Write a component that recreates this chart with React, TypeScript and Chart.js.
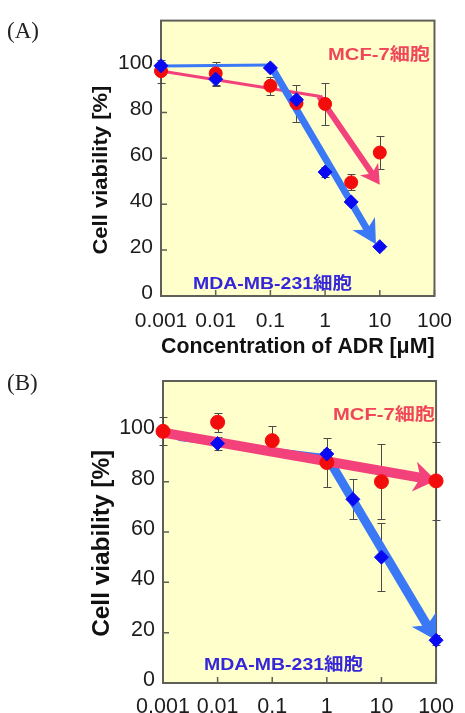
import React, { useEffect, useRef } from "react";
import { Chart, registerables } from "chart.js";

Chart.register(...registerables);

// ---------------- Shared axis data ----------------
const xTicks = [0.001, 0.01, 0.1, 1, 10, 100];
const xTickLabels = ["0.001", "0.01", "0.1", "1", "10", "100"];
const yTicks = [0, 20, 40, 60, 80, 100];
const yMax = 120;

// ---------------- Panel A ----------------
const mcfDoseA = [0.001, 0.01, 0.1, 0.3, 1, 3, 10];
const mcfViabilityA = [98, 97, 91.6, 84, 83.7, 49.5, 62.5];
const mcfErrorA = [5, 5, 4, 8, 9, 3.5, 7];
const mdaDoseA = [0.001, 0.01, 0.1, 0.3, 1, 3, 10];
const mdaViabilityA = [100.3, 94.5, 99.4, 85.5, 54, 41, 21.5];
const mdaErrorA = [1.5, 3, 1, 3, 2, 1, 1];
// hand-drawn trend arrows
const mcfTrendDoseA = [0.001, 0.78, 10];
const mcfTrendA = [98, 87, 48.5];
const mdaTrendDoseA = [0.001, 0.1, 8.5];
const mdaTrendA = [100.2, 100.6, 22.5];

// ---------------- Panel B ----------------
const mcfDoseB = [0.001, 0.01, 0.1, 1, 10, 100];
const mcfViabilityB = [100, 103.6, 96.3, 87.6, 80, 80.3];
const mcfErrorB = [5.5, 3.7, 5.8, 9.6, 14.8, 15.6];
const mdaDoseB = [0.01, 1, 3, 10, 100];
const mdaViabilityB = [95.2, 91, 73, 50, 17];
const mdaErrorB = [2.5, 2, 8, 13.5, 2];
const mcfTrendDoseB = [0.001, 100];
const mcfTrendB = [99.5, 80.5];
const mdaTrendDoseB = [0.002, 1, 100];
const mdaTrendB = [97, 90, 17];

// ---------------- Texts ----------------
const yTitle = "Cell viability [%]";
const xTitle = "Concentration of ADR [\u03bcM]";
const mcfName = "MCF-7細胞";
const mdaName = "MDA-MB-231細胞";

// ---------------- Styles ----------------
const FONT = "'Liberation Sans', Arial, 'Noto Sans CJK JP', sans-serif";
const RED = "#f20c0c";
const BLUE = "#0a0af2";
const PINK = "#f3417b";
const ARROW_BLUE = "#3a78f6";
const MCF_TEXT = "#f0465a";
const MDA_TEXT = "#3527d9";

const toPts = (xs: number[], ys: number[]) => xs.map((x, i) => ({ x, y: ys[i] }));

function drawFitText(
  ctx: CanvasRenderingContext2D,
  text: string,
  x: number,
  y: number,
  font: string,
  color: string,
  width: number,
  align: CanvasTextAlign,
  rot = 0
) {
  ctx.save();
  ctx.font = font;
  ctx.fillStyle = color;
  ctx.textBaseline = "middle";
  ctx.textAlign = align;
  const w = ctx.measureText(text).width;
  const s = w > 0 ? width / w : 1;
  ctx.translate(x, y);
  ctx.rotate(rot);
  ctx.scale(s, 1);
  ctx.fillText(text, 0, 0);
  ctx.restore();
}

const panelPlugin = {
  id: "panel",
  beforeDraw(chart: any, _a: any, opts: any) {
    const { ctx, chartArea: a } = chart;
    ctx.save();
    ctx.fillStyle = opts.background;
    ctx.fillRect(a.left, a.top, a.right - a.left, a.bottom - a.top);
    ctx.restore();
  },
  beforeDatasetsDraw(chart: any, _a: any, opts: any) {
    const { ctx, chartArea: a, scales } = chart;
    const xs = scales.x;
    const ys = scales.y;
    ctx.save();
    ctx.strokeStyle = opts.axisColor;
    ctx.lineWidth = 1.5;
    ctx.beginPath();
    for (const v of xTicks) {
      const px = xs.getPixelForValue(v);
      ctx.moveTo(px, a.bottom);
      ctx.lineTo(px, a.bottom - opts.tickLen);
    }
    for (const v of yTicks) {
      const py = ys.getPixelForValue(v);
      ctx.moveTo(a.left, py);
      ctx.lineTo(a.left + opts.tickLen, py);
    }
    ctx.stroke();
    ctx.lineWidth = 2;
    ctx.strokeRect(a.left, a.top, a.right - a.left, a.bottom - a.top);

    ctx.strokeStyle = opts.errColor;
    ctx.lineWidth = 1;
    chart.data.datasets.forEach((ds: any, i: number) => {
      if (!ds.errors) return;
      const meta = chart.getDatasetMeta(i);
      ds.data.forEach((d: any, j: number) => {
        const e = ds.errors[j];
        if (!e) return;
        const px = Math.round(meta.data[j].x) + 0.5;
        const y1 = Math.round(ys.getPixelForValue(d.y + e)) + 0.5;
        const y2 = Math.round(ys.getPixelForValue(d.y - e)) + 0.5;
        ctx.beginPath();
        ctx.moveTo(px, y1);
        ctx.lineTo(px, y2);
        ctx.moveTo(px - opts.cap, y1);
        ctx.lineTo(px + opts.cap, y1);
        ctx.moveTo(px - opts.cap, y2);
        ctx.lineTo(px + opts.cap, y2);
        ctx.stroke();
      });
    });
    ctx.restore();
  },
  beforeDatasetDraw(chart: any, args: any) {
    const ds = chart.data.datasets[args.index];
    if (!ds.arrow) return;
    const pts = args.meta.data;
    const n = pts.length;
    const p = pts[n - 1];
    const q = pts[n - 2];
    const dx = p.x - q.x;
    const dy = p.y - q.y;
    const L = Math.hypot(dx, dy) || 1;
    const ux = dx / L;
    const uy = dy / L;
    ds._tip = { x: p.x, y: p.y, ux, uy };
    p.x = p.x - ux * ds.arrow.len * 0.6;
    p.y = p.y - uy * ds.arrow.len * 0.6;
    if (args.meta.dataset) args.meta.dataset._path = undefined;
  },
  afterDatasetDraw(chart: any, args: any) {
    const ds = chart.data.datasets[args.index];
    if (!ds.arrow || !ds._tip) return;
    const pts = args.meta.data;
    const p = pts[pts.length - 1];
    const t = ds._tip;
    p.x = t.x;
    p.y = t.y;
    const { len, half } = ds.arrow;
    const ctx = chart.ctx;
    const bx = t.x - t.ux * len;
    const by = t.y - t.uy * len;
    const nx = t.x - t.ux * len * 0.72;
    const ny = t.y - t.uy * len * 0.72;
    const px = -t.uy;
    const py = t.ux;
    ctx.save();
    ctx.fillStyle = ds.borderColor;
    ctx.beginPath();
    ctx.moveTo(t.x, t.y);
    ctx.lineTo(bx + px * half, by + py * half);
    ctx.lineTo(nx, ny);
    ctx.lineTo(bx - px * half, by - py * half);
    ctx.closePath();
    ctx.fill();
    ctx.restore();
  },
  afterDraw(chart: any, _a: any, opts: any) {
    const { ctx, chartArea: a } = chart;
    for (const lb of opts.labels) {
      drawFitText(ctx, lb.text, a.left + lb.dx, a.top + lb.dy, `bold ${lb.size}px ${FONT}`, lb.color, lb.w, "left");
    }
    const yt = opts.yTitle;
    drawFitText(ctx, yTitle, a.left + yt.dx, a.top + yt.dy, `bold ${yt.size}px ${FONT}`, "#111", yt.w, "center", -Math.PI / 2);
  },
};

function trendDatasets(dose: number[], val: number[], color: string, thinW: number, thickW: number, head: any) {
  const base = {
    showLine: true,
    borderColor: color,
    backgroundColor: color,
    pointRadius: 0,
    pointHoverRadius: 0,
    order: 5,
    clip: false,
    tension: 0,
    fill: false,
  };
  const out: any[] = [];
  const n = dose.length;
  if (n > 2) {
    out.push({
      ...base,
      data: toPts(dose.slice(0, n - 1), val.slice(0, n - 1)),
      borderWidth: thinW,
      borderCapStyle: "round",
      borderJoinStyle: "round",
    });
  }
  out.push({
    ...base,
    data: toPts(dose.slice(n - 2), val.slice(n - 2)),
    borderWidth: thickW,
    borderCapStyle: "butt",
    arrow: head,
  });
  return out;
}

function markerDataset(dose: number[], val: number[], err: number[], color: string, style: string, r: number, order: number) {
  return {
    data: toPts(dose, val),
    errors: err,
    showLine: false,
    pointStyle: style,
    pointRadius: r,
    pointHoverRadius: r,
    pointBackgroundColor: color,
    pointBorderColor: color,
    pointBorderWidth: 1,
    order,
    clip: false,
  };
}

interface PanelSpec {
  width: number;
  height: number;
  padTop: number;
  padRight: number;
  yWidth: number;
  xHeight: number;
  xTickPad: number;
  tickSize: number;
  showXTitle: boolean;
  datasets: any[];
  labels: any[];
  yTitle: any;
}

function makeConfig(s: PanelSpec): any {
  return {
    type: "scatter",
    data: { datasets: s.datasets },
    options: {
      responsive: false,
      animation: false,
      events: [],
      layout: { padding: { left: 0, top: s.padTop, right: s.padRight, bottom: 0 } },
      plugins: {
        legend: { display: false },
        tooltip: { enabled: false },
        panel: {
          background: "#ffffcc",
          axisColor: "#5f5f57",
          errColor: "#4a4a4a",
          tickLen: 6,
          cap: 4,
          labels: s.labels,
          yTitle: s.yTitle,
        },
      },
      scales: {
        x: {
          type: "logarithmic",
          min: xTicks[0],
          max: xTicks[xTicks.length - 1],
          grid: { display: false, drawTicks: false },
          border: { display: false },
          afterBuildTicks: (sc: any) => {
            sc.ticks = xTicks.map((v) => ({ value: v }));
          },
          afterFit: (sc: any) => {
            sc.height = s.xHeight;
          },
          ticks: {
            autoSkip: false,
            maxRotation: 0,
            padding: s.xTickPad,
            color: "#1c1c1c",
            font: { family: FONT, size: s.tickSize },
            callback: (v: number) => {
              const i = xTicks.indexOf(v);
              return i >= 0 ? xTickLabels[i] : "";
            },
          },
          title: {
            display: s.showXTitle,
            text: xTitle,
            color: "#111",
            font: { family: FONT, size: 22, weight: "bold" },
            padding: { top: 0, bottom: 0 },
          },
        },
        y: {
          type: "linear",
          min: 0,
          max: yMax,
          grid: { display: false, drawTicks: false },
          border: { display: false },
          afterBuildTicks: (sc: any) => {
            sc.ticks = yTicks.map((v) => ({ value: v }));
          },
          afterFit: (sc: any) => {
            sc.width = s.yWidth;
          },
          ticks: {
            padding: 8,
            labelOffset: -3,
            color: "#1c1c1c",
            font: { family: FONT, size: s.tickSize },
            callback: (v: number) => String(v),
          },
        },
      },
    },
    plugins: [panelPlugin],
  };
}

const specA: PanelSpec = {
  width: 465,
  height: 360,
  padTop: 13,
  padRight: 26,
  yWidth: 161,
  xHeight: 64,
  xTickPad: 13,
  tickSize: 21,
  showXTitle: true,
  datasets: [
    markerDataset(mdaDoseA, mdaViabilityA, mdaErrorA, BLUE, "rectRot", 7, 0),
    markerDataset(mcfDoseA, mcfViabilityA, mcfErrorA, RED, "circle", 6.5, 1),
    ...trendDatasets(mdaTrendDoseA, mdaTrendA, ARROW_BLUE, 3, 7, { len: 24, half: 13 }),
    ...trendDatasets(mcfTrendDoseA, mcfTrendA, PINK, 3, 6, { len: 19, half: 11 }),
  ],
  labels: [
    { text: mcfName, color: MCF_TEXT, dx: 167, dy: 35, w: 102, size: 17 },
    { text: mdaName, color: MDA_TEXT, dx: 32, dy: 264, w: 159, size: 17 },
  ],
  yTitle: { dx: -59.3, dy: 149.5, w: 169, size: 21 },
};

const specB: PanelSpec = {
  width: 465,
  height: 387,
  padTop: 21,
  padRight: 23.5,
  yWidth: 163,
  xHeight: 64,
  xTickPad: 11,
  tickSize: 21.5,
  showXTitle: false,
  datasets: [
    markerDataset(mdaDoseB, mdaViabilityB, mdaErrorB, BLUE, "rectRot", 7, 0),
    markerDataset(mcfDoseB, mcfViabilityB, mcfErrorB, RED, "circle", 7, 1),
    ...trendDatasets(mcfTrendDoseB, mcfTrendB, PINK, 4, 10, { len: 22, half: 15 }),
    ...trendDatasets(mdaTrendDoseB, mdaTrendB, ARROW_BLUE, 4.5, 9, { len: 24, half: 14 }),
  ],
  labels: [
    { text: mcfName, color: MCF_TEXT, dx: 170, dy: 34, w: 102, size: 17 },
    { text: mdaName, color: MDA_TEXT, dx: 41, dy: 284, w: 159, size: 17 },
  ],
  yTitle: { dx: -60, dy: 162.3, w: 187, size: 23 },
};

function Panel({ spec, top }: { spec: PanelSpec; top: number }) {
  const ref = useRef<HTMLCanvasElement>(null);
  useEffect(() => {
    if (!ref.current) return;
    const chart = new Chart(ref.current, makeConfig(spec));
    return () => chart.destroy();
  }, [spec]);
  return (
    <canvas
      ref={ref}
      width={spec.width}
      height={spec.height}
      style={{ position: "absolute", left: 0, top, width: spec.width, height: spec.height, display: "block" }}
    />
  );
}

const panelLabelStyle: React.CSSProperties = {
  position: "absolute",
  left: 7,
  fontFamily: "'Liberation Serif', 'DejaVu Serif', serif",
  fontSize: 23,
  lineHeight: "23px",
  color: "#222",
  whiteSpace: "nowrap",
};

export default function App() {
  return (
    <div
      style={{
        position: "fixed",
        left: 0,
        top: 0,
        width: 465,
        height: 713,
        overflow: "hidden",
        background: "#ffffff",
      }}
    >
      <Panel spec={specA} top={0} />
      <Panel spec={specB} top={360} />
      <div style={{ ...panelLabelStyle, top: 19 }}>(A)</div>
      <div style={{ ...panelLabelStyle, top: 371 }}>(B)</div>
    </div>
  );
}
